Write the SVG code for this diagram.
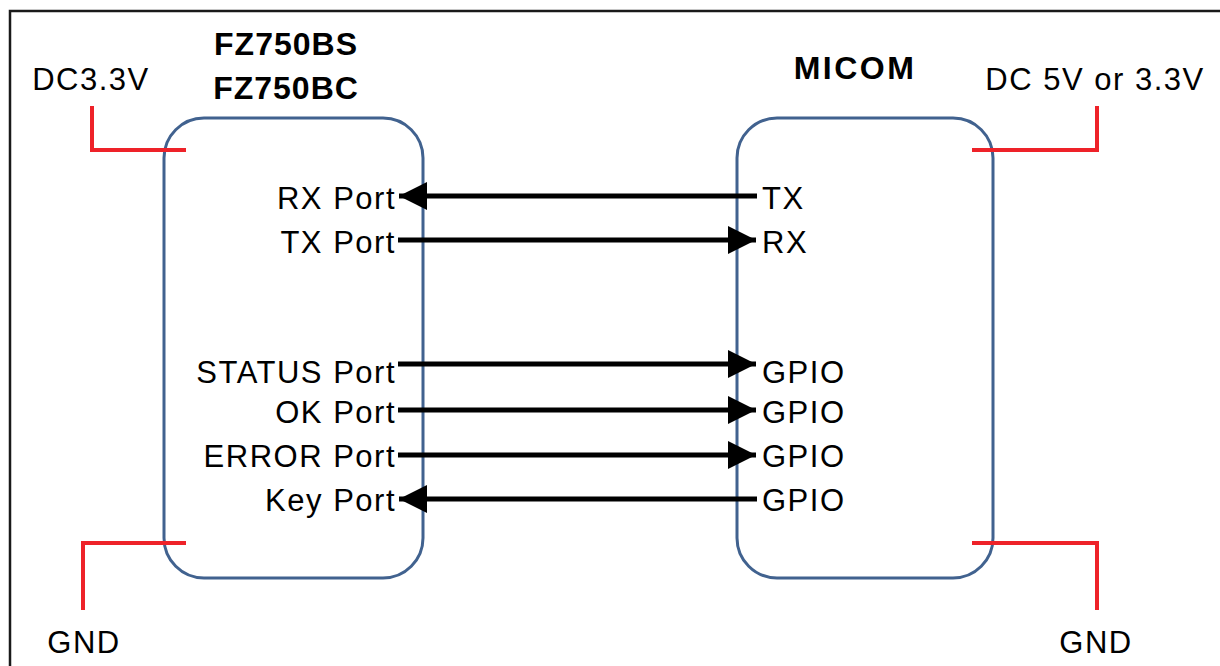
<svg xmlns="http://www.w3.org/2000/svg" width="1220" height="666" viewBox="0 0 1220 666">
  <style>
    .lbl { font-family: "Liberation Sans", Arial, sans-serif; font-size: 31px; fill: #000; letter-spacing: 1.5px; }
    .ttl { font-family: "Liberation Sans", Arial, sans-serif; font-size: 32px; font-weight: bold; fill: #000; letter-spacing: 1px; }
    .box { fill: #fff; stroke: #41628f; stroke-width: 3; }
    .pwr { fill: none; stroke: #ee2229; stroke-width: 4; }
    .sig { stroke: #000; stroke-width: 5; fill: none; }
    .end { text-anchor: end; }
    .mid { text-anchor: middle; }
  </style>
  <defs>
    <marker id="ah" markerUnits="userSpaceOnUse" markerWidth="28" markerHeight="28" viewBox="0 0 28 28" refX="28" refY="14" orient="auto">
      <path d="M0,0 L28,14 L0,28 Z" fill="#000"/>
    </marker>
  </defs>
  <rect x="0" y="0" width="1220" height="666" fill="#fff"/>
  <rect x="10" y="11" width="1240" height="700" fill="none" stroke="#1a1a1a" stroke-width="2.5"/>

  <g id="fz750">
    <rect class="box" x="164" y="118" width="259" height="460" rx="40" ry="40"/>
    <text class="ttl mid" x="286" y="55">FZ750BS</text>
    <text class="ttl mid" x="286" y="99">FZ750BC</text>
    <text class="lbl end" x="396" y="209">RX Port</text>
    <text class="lbl end" x="396" y="253">TX Port</text>
    <text class="lbl end" x="396" y="383">STATUS Port</text>
    <text class="lbl end" x="396" y="423">OK Port</text>
    <text class="lbl end" x="396" y="467">ERROR Port</text>
    <text class="lbl end" x="396" y="511">Key Port</text>
  </g>

  <g id="micom">
    <rect class="box" x="737" y="118" width="256" height="460" rx="40" ry="40"/>
    <text class="ttl mid" x="855" y="79" style="letter-spacing:2.5px">MICOM</text>
    <text class="lbl" x="762" y="209">TX</text>
    <text class="lbl" x="762" y="253">RX</text>
    <text class="lbl" x="762" y="383">GPIO</text>
    <text class="lbl" x="762" y="423">GPIO</text>
    <text class="lbl" x="762" y="467">GPIO</text>
    <text class="lbl" x="762" y="511">GPIO</text>
  </g>

  <g id="power">
    <path class="pwr" d="M92,106 V150 H186"/>
    <path class="pwr" d="M972,150 H1097 V106"/>
    <path class="pwr" d="M186,543 H83 V610"/>
    <path class="pwr" d="M972,543 H1097 V610"/>
  </g>

  <g id="power-labels">
    <text class="lbl mid" x="91" y="90">DC3.3V</text>
    <text class="lbl mid" x="1095" y="90">DC 5V or 3.3V</text>
    <text class="lbl mid" x="84" y="653">GND</text>
    <text class="lbl mid" x="1096" y="653">GND</text>
  </g>

  <g id="connectors">
    <line class="sig" x1="757" y1="196" x2="399" y2="196" marker-end="url(#ah)"/>
    <line class="sig" x1="398" y1="240" x2="756" y2="240" marker-end="url(#ah)"/>
    <line class="sig" x1="398" y1="364" x2="756" y2="364" marker-end="url(#ah)"/>
    <line class="sig" x1="398" y1="410" x2="756" y2="410" marker-end="url(#ah)"/>
    <line class="sig" x1="398" y1="455" x2="756" y2="455" marker-end="url(#ah)"/>
    <line class="sig" x1="757" y1="499" x2="399" y2="499" marker-end="url(#ah)"/>
  </g>
</svg>
